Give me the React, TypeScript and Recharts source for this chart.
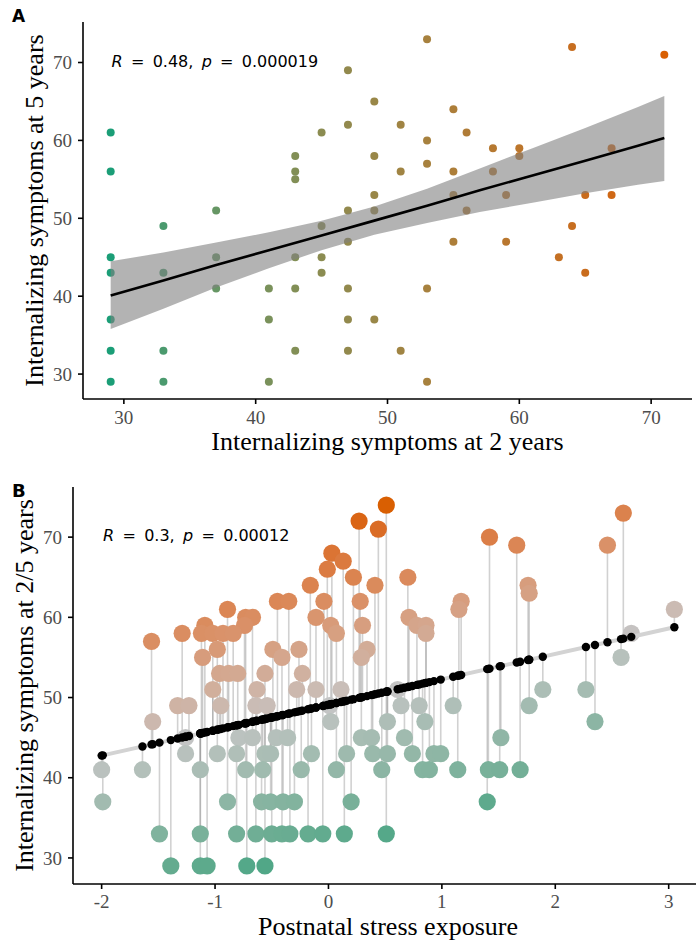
import React from 'react'
import { ComposedChart, Scatter, Area, Line, XAxis, YAxis, ErrorBar } from 'recharts'

// Panel A: symptoms at 2 years (x) vs at 5 years (y), grouped by x value
const A_AGE2 = [29, 33, 37, 41, 43, 45, 47, 49, 51, 53, 55, 56, 58, 59, 60, 63, 64, 65, 67, 71]
const A_AGE5 = [
  [61, 56, 45, 43, 37, 33, 29],
  [49, 43, 33, 29],
  [51, 45, 41],
  [41, 37, 29],
  [58, 56, 55, 45, 41, 33],
  [61, 49, 45, 43],
  [69, 62, 51, 47, 41, 37, 33],
  [65, 58, 53, 51, 37],
  [62, 56, 33],
  [73, 60, 57, 41, 29],
  [64, 56, 53, 47],
  [61, 51],
  [59, 56],
  [53, 47],
  [59, 58],
  [45],
  [72, 49],
  [53, 43],
  [59, 53],
  [71],
]

// regression line and confidence band
const BAND_X = [29, 33, 37, 41, 45, 49, 53, 57, 61, 65, 69, 71]
const BAND_FIT = [40.1, 42.0, 44.0, 45.9, 47.8, 49.7, 51.6, 53.6, 55.5, 57.4, 59.3, 60.3]
const BAND_LO = [35.8, 38.4, 41.1, 43.6, 45.9, 47.9, 49.4, 50.8, 52.0, 53.2, 54.3, 54.8]
const BAND_HI = [44.5, 45.6, 46.9, 48.2, 49.7, 51.5, 53.8, 56.4, 59.0, 61.6, 64.3, 65.7]

// Panel B: postnatal stress (x) per symptom level (y)
const B_LEVELS = [74, 73, 72, 71, 70, 69, 68, 67, 66, 65, 64, 63, 62, 61, 60, 59, 58, 57, 56, 55, 53, 51, 49, 47, 45, 43, 41, 37, 33, 29]
const B_STRESS = [
  [0.51],
  [2.6],
  [0.27],
  [0.44],
  [1.42],
  [1.66, 2.46],
  [0.03],
  [0.13],
  [-0.01],
  [0.22, 0.7],
  [-0.16, 0.41, 1.76],
  [1.77],
  [-0.45, -0.35, -0.04, 0.28, 1.17],
  [-0.89, 1.15, 3.05],
  [-0.73, -0.67, -0.11, 0.71],
  [-1.09, -0.74, 0.02, 0.3, 0.78, 0.86],
  [-1.29, -1.12, -1.02, -0.93, -0.84, 0.07, 0.86, 2.67],
  [-1.56],
  [-0.98, -0.49, -0.26, 0.34],
  [-1.11, -0.41, 0.29, 2.58],
  [-0.96, -0.88, -0.8, -0.56, -0.23],
  [-1.02, -0.63, -0.28, -0.11, 0.11, 0.61, 1.89, 2.27],
  [-1.33, -1.23, -0.95, -0.64, -0.54, 0.01, 0.64, 0.8, 1.1, 1.77],
  [-1.55, 0.02, 0.52, 0.85, 2.35],
  [-1.26, -0.79, -0.67, -0.46, -0.36, 0.29, 0.38, 0.67, 1.52],
  [-1.26, -0.98, -0.81, -0.56, -0.51, -0.15, 0.16, 0.39, 0.52, 0.74, 0.93, 0.99],
  [-2.0, -1.64, -1.13, -0.73, -0.58, -0.24, 0.07, 0.47, 0.83, 0.89, 1.14, 1.41, 1.51, 1.69],
  [-1.99, -0.89, -0.59, -0.51, -0.4, -0.3, 0.2, 1.4],
  [-1.49, -1.13, -0.81, -0.64, -0.5, -0.41, -0.34, -0.18, -0.05, 0.14, 0.51],
  [-1.39, -1.13, -1.07, -0.72, -0.56],
]
const B_INTERCEPT = 49.1
const B_SLOPE = 3.17

const A_TICKS_X = [30, 40, 50, 60, 70]
const A_TICKS_Y = [30, 40, 50, 60, 70]
const B_TICKS_X = [-2, -1, 0, 1, 2, 3]
const B_TICKS_Y = [30, 40, 50, 60, 70]

const LOW = '#1b9e77'
const MID = '#c4c4c4'
const HIGH = '#d95f02'

const serif = '"Liberation Serif", "Times New Roman", serif'
const sans = '"DejaVu Sans", Verdana, sans-serif'

// --- colour interpolation in Lab space (like ggplot's gradients)
function toLab(hex: string) {
  const c = [1, 3, 5].map(i => parseInt(hex.slice(i, i + 2), 16) / 255)
  const [r, g, b] = c.map(v => (v <= 0.04045 ? v / 12.92 : Math.pow((v + 0.055) / 1.055, 2.4)))
  const X = (0.4124 * r + 0.3576 * g + 0.1805 * b) / 0.95047
  const Y = 0.2126 * r + 0.7152 * g + 0.0722 * b
  const Z = (0.0193 * r + 0.1192 * g + 0.9505 * b) / 1.08883
  const f = (t: number) => (t > 0.008856 ? Math.cbrt(t) : 7.787 * t + 16 / 116)
  const fx = f(X), fy = f(Y), fz = f(Z)
  return [116 * fy - 16, 500 * (fx - fy), 200 * (fy - fz)]
}
function fromLab([L, a, bb]: number[]) {
  const fy = (L + 16) / 116
  const fx = fy + a / 500
  const fz = fy - bb / 200
  const inv = (t: number) => (t * t * t > 0.008856 ? t * t * t : (t - 16 / 116) / 7.787)
  const X = inv(fx) * 0.95047, Y = inv(fy), Z = inv(fz) * 1.08883
  const lin = [
    3.2406 * X - 1.5372 * Y - 0.4986 * Z,
    -0.9689 * X + 1.8758 * Y + 0.0415 * Z,
    0.0557 * X - 0.204 * Y + 1.057 * Z,
  ]
  return '#' + lin.map(v => {
    const s = v <= 0.0031308 ? 12.92 * v : 1.055 * Math.pow(v, 1 / 2.4) - 0.055
    return Math.round(Math.max(0, Math.min(1, s)) * 255).toString(16).padStart(2, '0')
  }).join('')
}
function mix(c1: string, c2: string, t: number) {
  const a = toLab(c1), b = toLab(c2)
  return fromLab(a.map((v, i) => v + (b[i] - v) * t))
}

// --- build series
const aMin = Math.min(...A_AGE2), aMax = Math.max(...A_AGE2)
const aPoints = A_AGE2.flatMap((x, i) =>
  A_AGE5[i].map(y => ({ x, y, color: mix(LOW, HIGH, (x - aMin) / (aMax - aMin)) }))
)
const bandData = BAND_X.map((x, i) => ({ x, lo: BAND_LO[i], hi: BAND_HI[i], fit: BAND_FIT[i] }))

const bRaw = B_LEVELS.flatMap((y, i) => B_STRESS[i].map(x => ({ x, y, fit: B_INTERCEPT + B_SLOPE * x })))
const maxResid = Math.max(...bRaw.map(p => Math.abs(p.y - p.fit)))
const bPoints = bRaw.map(p => {
  const r = p.y - p.fit
  const color = r >= 0 ? mix(MID, HIGH, r / maxResid) : mix(MID, LOW, -r / maxResid)
  return { ...p, color, err: r >= 0 ? [r, 0] : [0, -r] }
})
const bFitted = bRaw.map(p => ({ x: p.x, y: p.fit }))
const bXs = bRaw.map(p => p.x)
const bLine = [Math.min(...bXs), Math.max(...bXs)].map(x => ({ x, y: B_INTERCEPT + B_SLOPE * x }))

const tickStyle = { fill: '#4d4d4d', fontSize: 19, fontFamily: serif }
const axisStroke = { stroke: '#000', strokeWidth: 1.6 }
const titleStyle = { fill: '#000', fontSize: 26, fontFamily: serif }

const DotA = (p: any) => <circle cx={p.cx} cy={p.cy} r={4} fill={p.payload.color} />
const DotB = (p: any) => <circle cx={p.cx} cy={p.cy} r={8.6} fill={p.payload.color} />
const DotFit = (p: any) => <circle cx={p.cx} cy={p.cy} r={4.2} fill="#000" />
const Nothing = () => <g />

function Stat({ x, y, r, p }: { x: number; y: number; r: string; p: string }) {
  const gap = 8.3
  return (
    <text x={x} y={y} fontFamily={sans} fontSize={16} fill="#000">
      <tspan fontStyle="italic">R</tspan>
      <tspan dx={gap}>=</tspan>
      <tspan dx={gap}>{r},</tspan>
      <tspan dx={gap} fontStyle="italic">p</tspan>
      <tspan dx={gap}>=</tspan>
      <tspan dx={gap}>{p}</tspan>
    </text>
  )
}

export default function App() {
  return (
    <div style={{ position: 'absolute', left: 0, top: 0, width: 696, height: 944, overflow: 'hidden', background: '#fff' }}>
      <div style={{ position: 'absolute', left: 0, top: 0 }}>
        <ComposedChart width={696} height={460} data={bandData} margin={{ top: 22, right: 4, bottom: 0, left: 0 }}>
          <XAxis
            type="number"
            dataKey="x"
            domain={[26.9, 73.1]}
            allowDataOverflow
            ticks={A_TICKS_X}
            interval={0}
            tick={tickStyle}
            tickLine={axisStroke}
            axisLine={axisStroke}
            tickSize={5}
            tickMargin={7}
            height={61}
            label={{ value: 'Internalizing symptoms at 2 years', position: 'insideBottom', offset: 10, ...titleStyle }}
          />
          <YAxis
            type="number"
            domain={[26.8, 75.2]}
            allowDataOverflow
            ticks={A_TICKS_Y}
            interval={0}
            tick={tickStyle}
            tickLine={axisStroke}
            axisLine={axisStroke}
            tickSize={5}
            tickMargin={6}
            width={83}
            label={{ value: 'Internalizing symptoms at 5 years', angle: -90, position: 'insideLeft', offset: 34, style: { textAnchor: 'middle' }, ...titleStyle }}
          />
          <Scatter data={aPoints} dataKey="y" shape={DotA} isAnimationActive={false} zIndex={100} />
          <Area
            type="linear"
            dataKey={(d: any) => [d.lo, d.hi]}
            fill="#808080"
            fillOpacity={0.6}
            stroke="none"
            isAnimationActive={false}
            zIndex={200}
          />
          <Line type="linear" dataKey="fit" stroke="#000" strokeWidth={2.6} dot={false} isAnimationActive={false} zIndex={300} />
        </ComposedChart>
      </div>

      <div style={{ position: 'absolute', left: 0, top: 465 }}>
        <ComposedChart width={710} height={479} margin={{ top: 22, right: 7, bottom: 0, left: 0 }}>
          <XAxis
            type="number"
            dataKey="x"
            domain={[-2.2525, 3.3025]}
            allowDataOverflow
            ticks={B_TICKS_X}
            interval={0}
            tick={tickStyle}
            tickLine={axisStroke}
            axisLine={axisStroke}
            tickSize={5}
            tickMargin={6}
            height={60}
            label={{ value: 'Postnatal stress exposure', position: 'insideBottom', offset: 9, ...titleStyle }}
          />
          <YAxis
            type="number"
            domain={[26.75, 76.25]}
            allowDataOverflow
            ticks={B_TICKS_Y}
            interval={0}
            tick={tickStyle}
            tickLine={axisStroke}
            axisLine={axisStroke}
            tickSize={5}
            tickMargin={6}
            width={73}
            label={{ value: 'Internalizing symptoms at 2/5 years', angle: -90, position: 'insideLeft', offset: 24, style: { textAnchor: 'middle' }, ...titleStyle }}
          />
          <Scatter data={bPoints} dataKey="y" shape={Nothing} isAnimationActive={false} zIndex={100}>
            <ErrorBar dataKey="err" direction="y" width={0} stroke="rgba(140,140,140,0.4)" strokeWidth={1.6} zIndex={100} />
          </Scatter>
          <Scatter data={bPoints} dataKey="y" shape={DotB} isAnimationActive={false} zIndex={200} />
          <Scatter
            data={bLine}
            dataKey="y"
            shape={Nothing}
            line={{ stroke: '#d3d3d3', strokeWidth: 4 }}
            isAnimationActive={false}
            zIndex={300}
          />
          <Scatter data={bFitted} dataKey="y" shape={DotFit} isAnimationActive={false} zIndex={400} />
        </ComposedChart>
      </div>

      <svg width={696} height={944} style={{ position: 'absolute', left: 0, top: 0, pointerEvents: 'none' }}>
        <text x={12} y={22} fontFamily={sans} fontWeight="bold" fontSize={17} fill="#000">A</text>
        <text x={12} y={497} fontFamily={sans} fontWeight="bold" fontSize={18} fill="#000">B</text>
        <Stat x={111.5} y={66.5} r="0.48" p="0.000019" />
        <Stat x={103} y={541} r="0.3" p="0.00012" />
      </svg>
    </div>
  )
}
